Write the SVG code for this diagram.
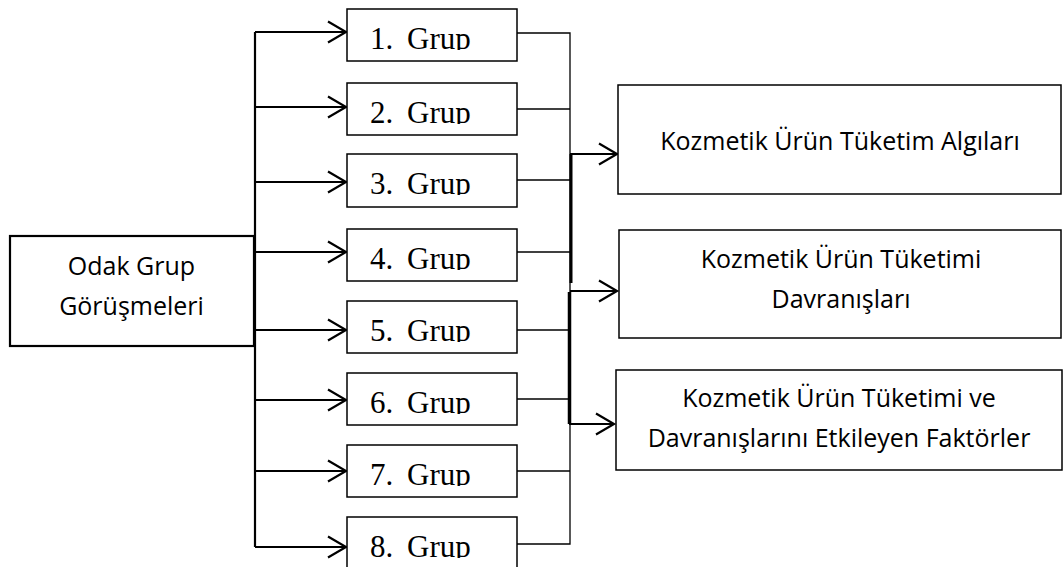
<svg xmlns="http://www.w3.org/2000/svg" width="1063" height="567" viewBox="0 0 1063 567">
<style>
.bg{fill:#fff}
.box{fill:#fff;stroke:#000;stroke-width:1.5}
.thick{fill:#fff;stroke:#000;stroke-width:2.2}
.ln{fill:none;stroke:#000;stroke-width:1.3}
.lnL{fill:none;stroke:#000;stroke-width:2.2}
.sans{font-family:"Open Sans","Liberation Sans",sans-serif;font-size:25px;fill:#000;text-anchor:middle}
.serif{font-family:"Liberation Serif","Times New Roman",serif;font-size:31px;fill:#000}
</style>
<defs>
<marker id="arr" markerWidth="22" markerHeight="26" refX="19" refY="12" orient="auto" markerUnits="userSpaceOnUse">
<path d="M1,1.5 L19,12 L1,22.5" fill="none" stroke="#000" stroke-width="2.2"/>
</marker>
<clipPath id="c1"><rect x="347" y="9" width="170" height="41"/></clipPath>
<clipPath id="c2"><rect x="347" y="83" width="170" height="41"/></clipPath>
<clipPath id="c3"><rect x="347" y="154" width="170" height="41"/></clipPath>
<clipPath id="c4"><rect x="347" y="229" width="170" height="41"/></clipPath>
<clipPath id="c5"><rect x="347" y="301" width="170" height="41"/></clipPath>
<clipPath id="c6"><rect x="347" y="373" width="170" height="41"/></clipPath>
<clipPath id="c7"><rect x="347" y="445" width="170" height="41"/></clipPath>
<clipPath id="c8"><rect x="347" y="517" width="170" height="41"/></clipPath>
</defs>
<rect class="bg" x="0" y="0" width="1063" height="567"/>

<g id="connectors">
  <path class="lnL" d="M255,32 V547"/>
  <path class="lnL" d="M255,32 H346" marker-end="url(#arr)"/>
  <path class="lnL" d="M255,107 H346" marker-end="url(#arr)"/>
  <path class="lnL" d="M255,182 H346" marker-end="url(#arr)"/>
  <path class="lnL" d="M255,252 H346" marker-end="url(#arr)"/>
  <path class="lnL" d="M255,330 H346" marker-end="url(#arr)"/>
  <path class="lnL" d="M255,400 H346" marker-end="url(#arr)"/>
  <path class="lnL" d="M255,471 H346" marker-end="url(#arr)"/>
  <path class="lnL" d="M255,547 H346" marker-end="url(#arr)"/>

  <path class="ln" d="M517,33 H570 V544 H517"/>
  <path class="ln" d="M517,109 H570"/>
  <path class="ln" d="M517,180 H570"/>
  <path class="ln" d="M517,252 H570"/>
  <path class="ln" d="M517,330 H570"/>
  <path class="ln" d="M517,399 H570"/>
  <path class="ln" d="M517,471 H570"/>
  <path fill="none" stroke="#000" stroke-width="3" d="M571,154 V283"/>
  <path fill="none" stroke="#000" stroke-width="3.5" d="M569.5,292 V424"/>
  <path class="lnL" d="M570,154 H617" marker-end="url(#arr)"/>
  <path class="lnL" d="M570,291 H617" marker-end="url(#arr)"/>
  <path class="lnL" d="M569,424 H614" marker-end="url(#arr)"/>
</g>

<g id="odak">
  <rect class="thick" x="10" y="236" width="244" height="110"/>
  <text class="sans" x="131.5" y="275">Odak Grup</text>
  <text class="sans" x="131.5" y="315">Görüşmeleri</text>
</g>

<g id="grup1"><rect class="box" x="347" y="9" width="170" height="52"/><text class="serif" y="48.5" clip-path="url(#c1)"><tspan x="370">1.</tspan><tspan x="407">Grup</tspan></text></g>
<g id="grup2"><rect class="box" x="347" y="83" width="170" height="52"/><text class="serif" y="122.5" clip-path="url(#c2)"><tspan x="370">2.</tspan><tspan x="407">Grup</tspan></text></g>
<g id="grup3"><rect class="box" x="347" y="154" width="170" height="53"/><text class="serif" y="193.5" clip-path="url(#c3)"><tspan x="370">3.</tspan><tspan x="407">Grup</tspan></text></g>
<g id="grup4"><rect class="box" x="347" y="229" width="170" height="52"/><text class="serif" y="268.5" clip-path="url(#c4)"><tspan x="370">4.</tspan><tspan x="407">Grup</tspan></text></g>
<g id="grup5"><rect class="box" x="347" y="301" width="170" height="52"/><text class="serif" y="340.5" clip-path="url(#c5)"><tspan x="370">5.</tspan><tspan x="407">Grup</tspan></text></g>
<g id="grup6"><rect class="box" x="347" y="373" width="170" height="52"/><text class="serif" y="412.5" clip-path="url(#c6)"><tspan x="370">6.</tspan><tspan x="407">Grup</tspan></text></g>
<g id="grup7"><rect class="box" x="347" y="445" width="170" height="52"/><text class="serif" y="484.5" clip-path="url(#c7)"><tspan x="370">7.</tspan><tspan x="407">Grup</tspan></text></g>
<g id="grup8"><rect class="box" x="347" y="517" width="170" height="60"/><text class="serif" y="556.5" clip-path="url(#c8)"><tspan x="370">8.</tspan><tspan x="407">Grup</tspan></text></g>

<g id="algilar">
  <rect class="box" x="618" y="85" width="443" height="109"/>
  <text class="sans" x="840" y="150">Kozmetik Ürün Tüketim Algıları</text>
</g>
<g id="davranislar">
  <rect class="box" x="619" y="230" width="442" height="108"/>
  <text class="sans" x="841" y="268">Kozmetik Ürün Tüketimi</text>
  <text class="sans" x="841" y="308">Davranışları</text>
</g>
<g id="faktorler">
  <rect class="box" x="616" y="370" width="446" height="100"/>
  <text class="sans" x="839" y="407">Kozmetik Ürün Tüketimi ve</text>
  <text class="sans" x="839" y="447">Davranışlarını Etkileyen Faktörler</text>
</g>
</svg>
